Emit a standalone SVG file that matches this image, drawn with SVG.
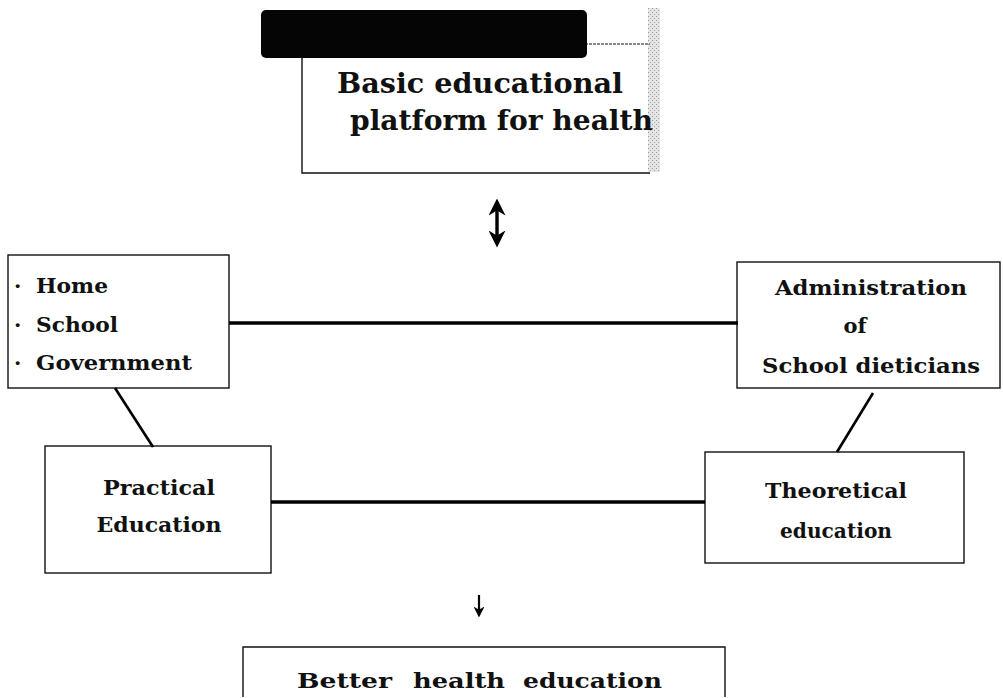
<svg xmlns="http://www.w3.org/2000/svg" width="1003" height="698" viewBox="0 0 1003 698">
<style>
.box{fill:#fff;stroke:#111;stroke-width:1.4}
.t{font-family:"DejaVu Serif","Liberation Serif",serif;font-weight:bold;fill:#111;font-size:21px}
.big{font-size:27px}
.conn{stroke:#000;fill:none;stroke-linecap:butt}
</style>
<defs>
<marker id="ah" viewBox="0 0 10 10" refX="5" refY="5" markerWidth="5" markerHeight="5" orient="auto-start-reverse" markerUnits="strokeWidth">
<path d="M0,0 L10,5 L0,10 L3,5 z" fill="#000"/>
</marker>
<pattern id="stip" width="4" height="4" patternUnits="userSpaceOnUse">
<rect width="4" height="4" fill="#e4e4e4"/>
<rect width="1" height="1" fill="#999"/>
<rect x="2" y="2" width="1" height="1" fill="#aaa"/>
</pattern>
</defs>
<rect width="1003" height="698" fill="#fff"/>

<g id="node-platform">
<rect x="648" y="8" width="12" height="164" fill="url(#stip)"/>
<path d="M302,45 V173 H650" class="box" fill="none"/>
<line x1="585" y1="44" x2="650" y2="44" stroke="#888" stroke-width="2" stroke-dasharray="3,1"/>
<rect x="261" y="10" width="326" height="48" rx="5" fill="#050505"/>
<text class="t big" x="337" y="93" textLength="286" lengthAdjust="spacingAndGlyphs">Basic educational</text>
<text class="t big" x="350" y="130" textLength="303" lengthAdjust="spacingAndGlyphs">platform for health</text>
</g>

<g id="node-actors">
<rect class="box" x="8" y="255" width="221" height="133"/>
<text class="t" x="14" y="293">·</text>
<text class="t" x="36" y="293" textLength="72" lengthAdjust="spacingAndGlyphs">Home</text>
<text class="t" x="14" y="332">·</text>
<text class="t" x="36" y="332" textLength="82" lengthAdjust="spacingAndGlyphs">School</text>
<text class="t" x="14" y="370">·</text>
<text class="t" x="36" y="370" textLength="156" lengthAdjust="spacingAndGlyphs">Government</text>
</g>

<g id="node-admin">
<rect class="box" x="737" y="262" width="263" height="126"/>
<text class="t" x="871" y="295" text-anchor="middle" textLength="192" lengthAdjust="spacingAndGlyphs">Administration</text>
<text class="t" x="855" y="333" text-anchor="middle">of</text>
<text class="t" x="871" y="373" text-anchor="middle" textLength="218" lengthAdjust="spacingAndGlyphs">School dieticians</text>
</g>

<g id="node-practical">
<rect class="box" x="45" y="446" width="226" height="127"/>
<text class="t" x="159" y="495" text-anchor="middle" textLength="112" lengthAdjust="spacingAndGlyphs">Practical</text>
<text class="t" x="159" y="532" text-anchor="middle" textLength="125" lengthAdjust="spacingAndGlyphs">Education</text>
</g>

<g id="node-theoretical">
<rect class="box" x="705" y="452" width="259" height="111"/>
<text class="t" x="836" y="498" text-anchor="middle" textLength="142" lengthAdjust="spacingAndGlyphs">Theoretical</text>
<text class="t" x="836" y="538" text-anchor="middle" textLength="112" lengthAdjust="spacingAndGlyphs">education</text>
</g>

<g id="node-better">
<path class="box" d="M243,697 V647 H725 V697" fill="none"/>
<text class="t" x="297" y="688" textLength="95" lengthAdjust="spacingAndGlyphs">Better</text>
<text class="t" x="413" y="688" textLength="92" lengthAdjust="spacingAndGlyphs">health</text>
<text class="t" x="523" y="688" textLength="139" lengthAdjust="spacingAndGlyphs">education</text>
</g>

<g id="connectors">
<line class="conn" x1="229" y1="323" x2="738" y2="323" stroke-width="3.5"/>
<line class="conn" x1="271" y1="502" x2="705" y2="502" stroke-width="3.5"/>
<line class="conn" x1="115" y1="388" x2="153" y2="447" stroke-width="2.6"/>
<line class="conn" x1="873" y1="393" x2="837" y2="452" stroke-width="2.6"/>
<line class="conn" x1="497" y1="207" x2="497" y2="239" stroke-width="3.4" marker-start="url(#ah)" marker-end="url(#ah)"/>
<line class="conn" x1="479" y1="595" x2="479" y2="612" stroke-width="2.2" marker-end="url(#ah)"/>
</g>
</svg>
